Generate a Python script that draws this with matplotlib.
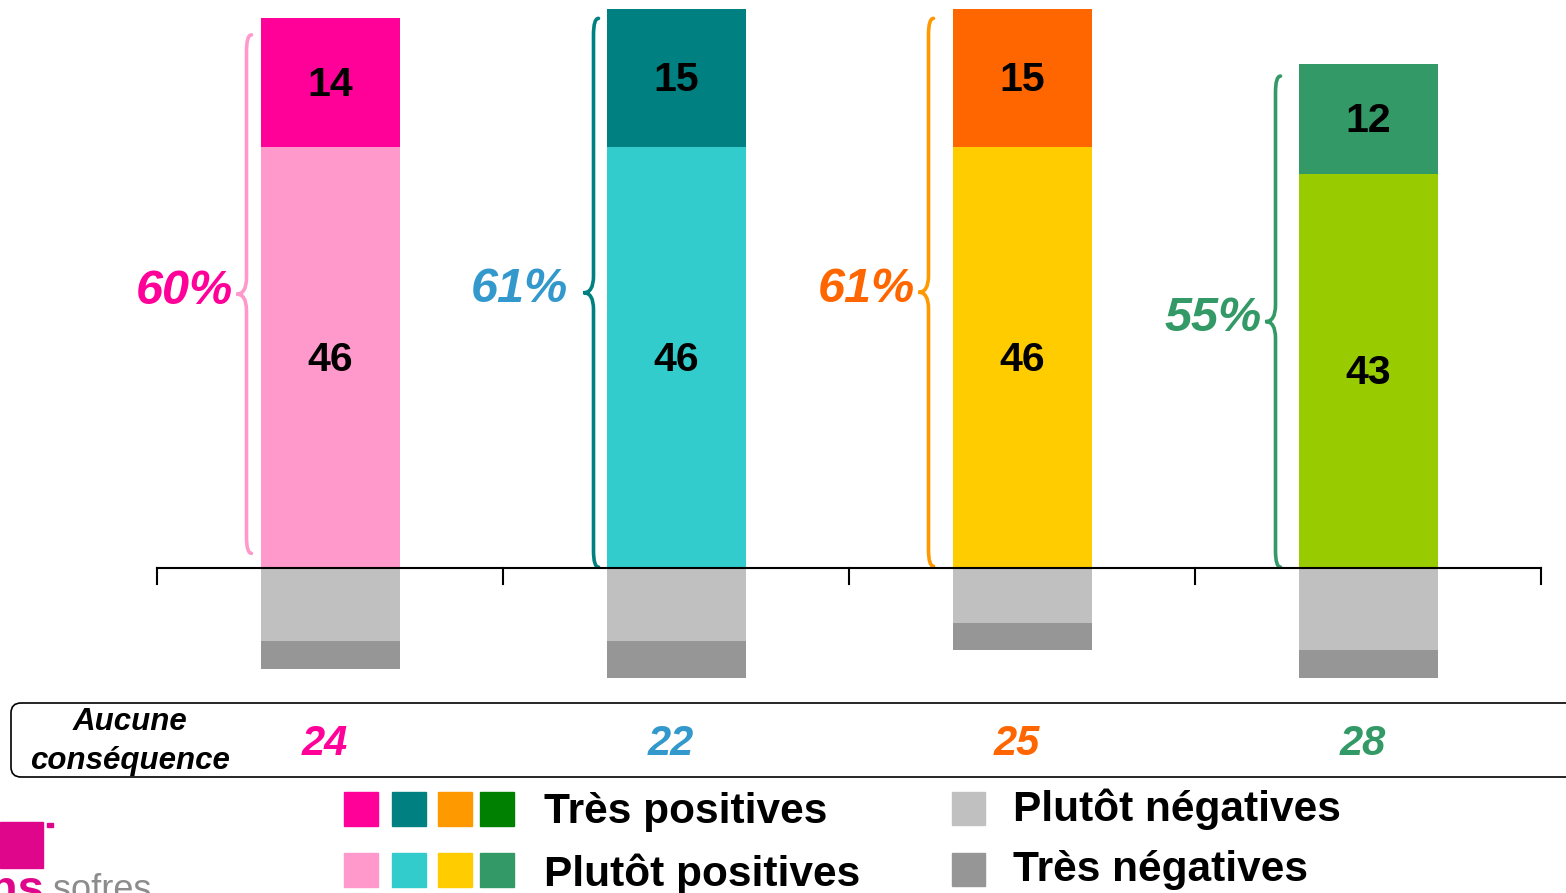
import matplotlib
matplotlib.use("Agg")
import matplotlib.pyplot as plt
from matplotlib.path import Path
from matplotlib.patches import PathPatch, Rectangle, FancyBboxPatch

plt.rcParams['font.family'] = ['Liberation Sans', 'DejaVu Sans']

# data
tres_pos = [14, 15, 15, 12]
plutot_pos = [46, 46, 46, 43]
plutot_neg = [8, 8, 6, 9]
tres_neg = [3, 4, 3, 3]
aucune = [24, 22, 25, 28]

# colours per group
dark_cols = ['#FF0099', '#008080', '#FF6600', '#339966']
light_cols = ['#FF99CC', '#33CCCC', '#FFCC00', '#99CC00']
brace_cols = ['#FF99CC', '#008080', '#FF9900', '#339966']
label_cols = ['#FF0099', '#3399CC', '#FF6600', '#339966']
legend_dark = ['#FF0099', '#008080', '#FF9900', '#008000']
legend_light = ['#FF99CC', '#33CCCC', '#FFCC00', '#339966']
grey_light = '#C0C0C0'
grey_dark = '#969696'

# brace placement (gap to bar in px, bottom/top insets in units)
brace_gap = [14, 13, 24, 23]
brace_lo = [1.6, 0.1, 0.2, 0.1]
brace_top_off = [1.8, 1.0, 1.0, 1.3]
label_gap = [4, 16, 4, 4]

W, H = 1566, 893
PX_X = 346.0   # px per category
PX_Y = 9.16    # px per percent
fig = plt.figure(figsize=(W / 100, H / 100), dpi=100)

ax = fig.add_axes([0, 0, 1, 1])
ax.set_xlim(-0.5 - 157 / PX_X, -0.5 + (W - 157) / PX_X)
ax.set_ylim(-(H - 568) / PX_Y, 568 / PX_Y)
ax.axis('off')


def draw_brace(ax, x, y0, y1, color, tip=10 / PX_X, curl=5 / PX_X, h=1.8):
    mid = (y0 + y1) / 2
    verts = [(x + curl, y1), (x, y1), (x, y1 - h),
             (x, mid + h), (x, mid), (x - tip, mid),
             (x, mid), (x, mid - h),
             (x, y0 + h), (x, y0), (x + curl, y0)]
    codes = [Path.MOVETO, Path.CURVE3, Path.CURVE3, Path.LINETO,
             Path.CURVE3, Path.CURVE3, Path.CURVE3, Path.CURVE3,
             Path.LINETO, Path.CURVE3, Path.CURVE3]
    ax.add_patch(PathPatch(Path(verts, codes), fill=False, ec=color,
                           lw=2.6, capstyle='round', zorder=3))
    return x - tip, mid


bw = 139 / PX_X
xs = range(len(tres_pos))
for i in xs:
    tp, pp = tres_pos[i], plutot_pos[i]
    pn, tn = plutot_neg[i], tres_neg[i]
    ax.bar(i, pp, width=bw, color=light_cols[i], zorder=2)
    ax.bar(i, tp, bottom=pp, width=bw, color=dark_cols[i], zorder=2)
    ax.bar(i, -pn, width=bw, color=grey_light, zorder=2)
    ax.bar(i, -tn, bottom=-pn, width=bw, color=grey_dark, zorder=2)
    ax.text(i, pp + tp / 2 - 0.25, str(tp), ha='center', va='center',
            fontsize=29.5, fontweight='bold', color='black', zorder=4)
    ax.text(i, pp / 2 - 0.25, str(pp), ha='center', va='center',
            fontsize=29.5, fontweight='bold', color='black', zorder=4)

    bx = i - bw / 2 - brace_gap[i] / PX_X
    tx, ty = draw_brace(ax, bx, brace_lo[i], tp + pp - brace_top_off[i], brace_cols[i])
    ax.text(tx - label_gap[i] / PX_X, ty + 0.3, f"{tp + pp}%", ha='right', va='center',
            fontsize=35, fontweight='bold', fontstyle='italic', color=label_cols[i])

# axis line with ticks
ax.plot([-0.5, len(tres_pos) - 0.5], [0, 0], color='black', lw=1.5, zorder=5)
for k in range(len(tres_pos) + 1):
    ax.plot([k - 0.5, k - 0.5], [0, -16 / PX_Y], color='black', lw=1.5, zorder=5)

# overlay in pixel coordinates
ov = fig.add_axes([0, 0, 1, 1])
ov.set_xlim(0, W)
ov.set_ylim(H, 0)
ov.axis('off')
ov.patch.set_alpha(0)

box = FancyBboxPatch((11, 703), 1620, 74, boxstyle='round,pad=0,rounding_size=10',
                     fc='none', ec='black', lw=1.2)
ov.add_patch(box)
ov.text(130, 722, 'Aucune', ha='center', va='center', fontsize=22.5,
        fontweight='bold', fontstyle='italic')
ov.text(130, 761, 'conséquence', ha='center', va='center', fontsize=22.5,
        fontweight='bold', fontstyle='italic')
for i in xs:
    px = 157 + PX_X * (i + 0.5)
    ov.text(px - 5, 744, str(aucune[i]), ha='center', va='center', fontsize=30,
            fontweight='bold', fontstyle='italic', color=label_cols[i])

# legend
sq_x = [344, 392, 438, 480]
for j in range(4):
    ov.add_patch(Rectangle((sq_x[j], 792), 34, 34, color=legend_dark[j]))
    ov.add_patch(Rectangle((sq_x[j], 853), 34, 34, color=legend_light[j]))
ov.add_patch(Rectangle((952, 792), 33, 33, color=grey_light))
ov.add_patch(Rectangle((952, 853), 33, 33, color=grey_dark))
ov.text(544, 823, 'Très positives', fontsize=30.5, fontweight='bold', va='baseline')
ov.text(544, 886, 'Plutôt positives', fontsize=30.5, fontweight='bold', va='baseline')
ov.text(1013, 821, 'Plutôt négatives', fontsize=30.5, fontweight='bold', va='baseline')
ov.text(1013, 881, 'Très négatives', fontsize=30.5, fontweight='bold', va='baseline')

# logo (cropped)
ov.add_patch(Rectangle((0, 822), 43, 46, color='#E0068B'))
ov.add_patch(Rectangle((47, 823), 6, 4, color='#E0068B'))
ov.text(44, 903, 'tns', ha='right', va='baseline', fontsize=34, fontweight='bold',
        color='#E0068B')
ov.text(53, 900, 'sofres', ha='left', va='baseline', fontsize=26, color='#8C8C8C')

fig.savefig('out.png', dpi=100)
